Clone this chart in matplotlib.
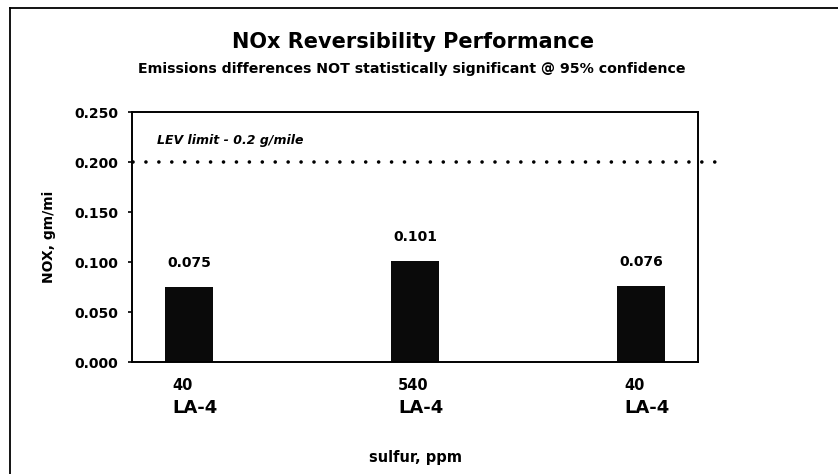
import matplotlib
matplotlib.use("Agg")
import matplotlib.pyplot as plt
from matplotlib.lines import Line2D

plt.rcParams['font.family'] = ['DejaVu Sans']

sulfur = ["40", "540", "40"]
cycle = ["LA-4", "LA-4", "LA-4"]
nox = [0.075, 0.101, 0.076]
lev_limit = 0.2
yticks = [0.0, 0.05, 0.10, 0.15, 0.20, 0.25]

W, H = 838, 474
fig = plt.figure(figsize=(W / 100, H / 100), dpi=100)

# axes placement in pixels
ax_l, ax_r, ax_t, ax_b = 132, 698, 112, 362
ax = fig.add_axes([ax_l / W, 1 - ax_b / H, (ax_r - ax_l) / W, (ax_b - ax_t) / H])

x = list(range(len(nox)))
ax.bar(x, nox, width=0.212, color="#0a0a0a", zorder=2)
ax.set_xlim(-0.252, 2.252)
ax.set_ylim(0, 0.25)
ax.set_yticks(yticks)
ax.set_yticklabels([f"{v:.3f}" for v in yticks], fontsize=10, fontweight="bold")
ax.tick_params(axis="y", direction="out", length=3, width=1.2, pad=7)
ax.set_xticks([])
for s in ax.spines.values():
    s.set_linewidth(1.4)
    s.set_color("black")

for xi, v in zip(x, nox):
    ax.annotate(f"{v:.3f}", xy=(xi, v), xytext=(0, 17), textcoords="offset points",
                ha="center", va="center", fontsize=10, fontweight="bold")

# LEV limit dotted line extending past axes
ax.plot([-0.248, 2.365], [lev_limit, lev_limit], linestyle=(0, (0.01, 3.57)),
        color="black", linewidth=2.6, dash_capstyle="round", clip_on=False, zorder=3)
ax.text(-0.141, 0.2215, "LEV limit - 0.2 g/mile", fontsize=9, fontweight="bold",
        fontstyle="italic", va="center", ha="left")

# category labels below
for xi, s, c in zip(x, sulfur, cycle):
    ax.annotate(s, xy=(xi - 0.075, 0), xycoords="data", xytext=(0, -20.5),
                textcoords="offset points", ha="left", va="baseline",
                fontsize=10.5, fontweight="bold")
    ax.annotate(c, xy=(xi - 0.075, 0), xycoords="data", xytext=(0, -37),
                textcoords="offset points", ha="left", va="baseline",
                fontsize=13, fontweight="bold")

fig.text(415 / W, 1 - 462 / H, "sulfur, ppm", ha="center", va="baseline",
         fontsize=10.5, fontweight="bold")
fig.text(49 / W, 1 - 237 / H, "NOX, gm/mi", ha="center", va="center",
         rotation=90, fontsize=10, fontweight="bold")

fig.text(413 / W, 1 - 48 / H, "NOx Reversibility Performance", ha="center",
         va="baseline", fontsize=15, fontweight="bold")
fig.text(412 / W, 1 - 73 / H,
         "Emissions differences NOT statistically significant @ 95% confidence",
         ha="center", va="baseline", fontsize=10.2, fontweight="bold")

# outer frame (top and left edges)
fig.add_artist(Line2D([10 / W, 10 / W], [0, 1 - 8 / H], transform=fig.transFigure,
                      color="black", linewidth=1.3))
fig.add_artist(Line2D([10 / W, 1], [1 - 8 / H, 1 - 8 / H], transform=fig.transFigure,
                      color="black", linewidth=1.3))

fig.savefig("out.png", dpi=100)
